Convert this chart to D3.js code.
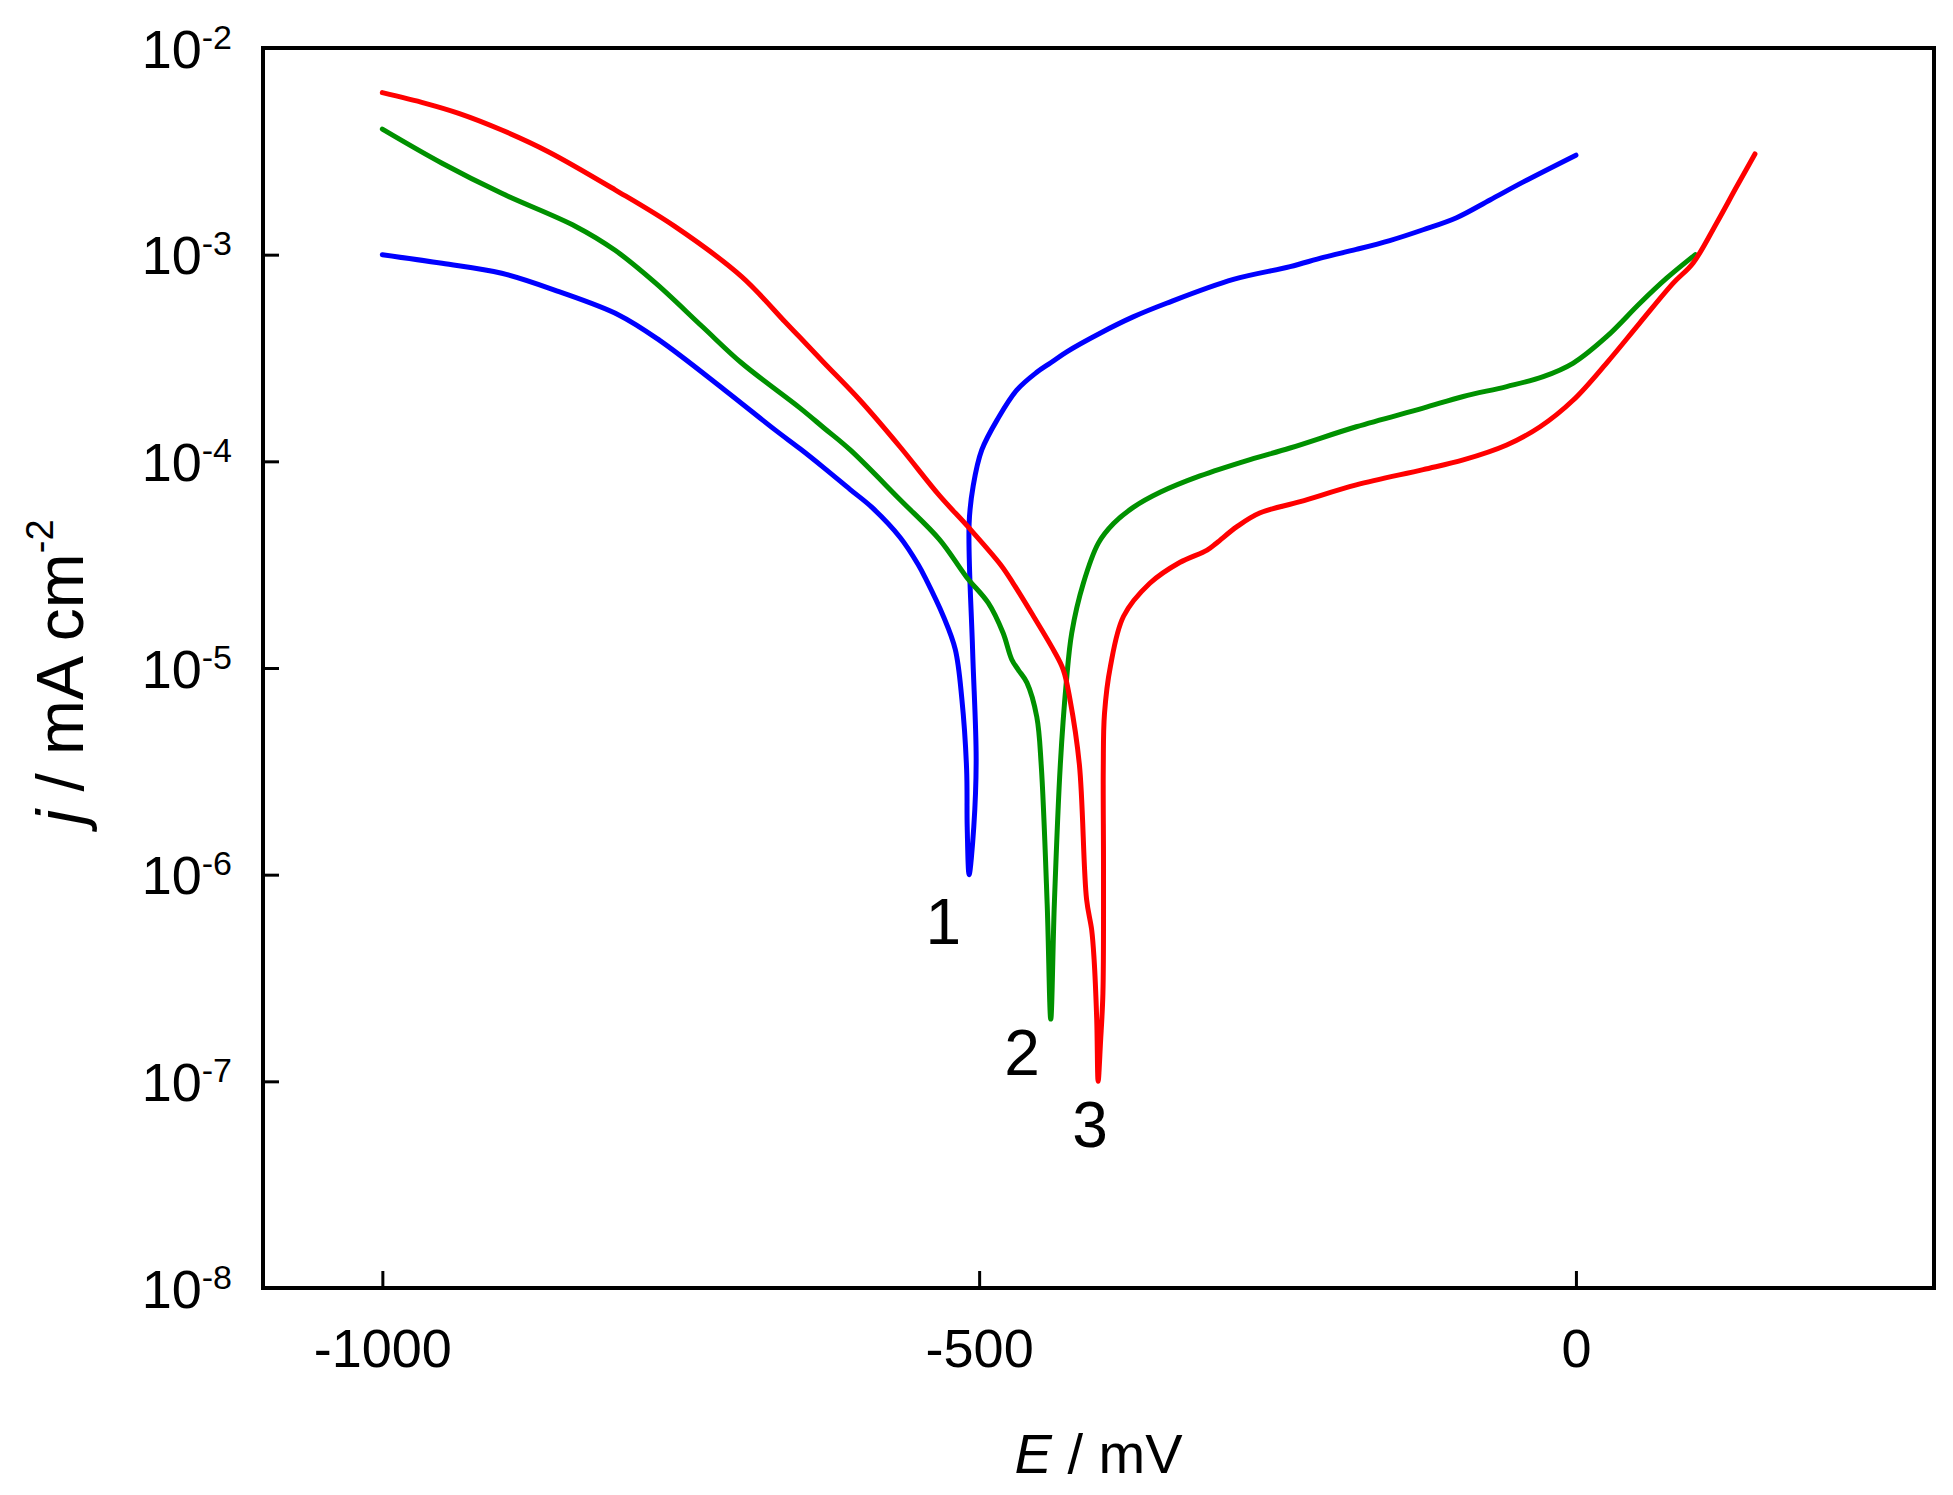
<!DOCTYPE html>
<html>
<head>
<meta charset="utf-8">
<script src="https://cdn.jsdelivr.net/npm/d3@7"></script>
<style>
    body { margin: 0; background: #fff; }
    svg { display: block; font-family: "Liberation Sans", Arial, sans-serif; }
</style>
</head>
<body>
<div id="chart"></div>
<script>
// potential E (mV) vs current density j (mA cm-2)
const curve1 = [
    [-1000, 1.0e-3], [-950, 9.08e-4], [-900, 8.13e-4], [-852, 6.62e-4], [-802, 5.11e-4],
    [-768, 3.86e-4], [-713, 2.21e-4], [-671, 1.42e-4], [-650, 1.15e-4], [-630, 9.3e-5],
    [-608, 7.3e-5], [-590, 6.0e-5], [-566, 4.27e-5], [-551, 3.16e-5], [-545, 2.72e-5],
    [-530, 1.78e-5], [-520, 1.23e-5], [-514.5, 7.1e-6], [-510.5, 3.24e-6], [-510, 1.7e-6],
    [-508.4, 1.0e-6],
    [-504.5, 1.7e-6], [-502.5, 3.6e-6], [-505.5, 1.23e-5], [-508.4, 5.0e-5], [-505, 7.6e-5],
    [-497.8, 1.135e-4], [-484, 1.62e-4], [-468.5, 2.21e-4], [-452, 2.69e-4], [-440, 3.0e-4],
    [-426.6, 3.39e-4], [-398.7, 4.17e-4], [-371, 5.0e-4], [-343, 5.82e-4], [-287, 7.59e-4],
    [-239.5, 8.75e-4], [-211.6, 9.7e-4], [-184, 1.06e-3], [-156, 1.17e-3], [-128, 1.32e-3],
    [-100, 1.51e-3], [-72, 1.84e-3], [-44, 2.25e-3], [0, 3.03e-3]
];

const curve2 = [
    [-1000, 4.05e-3], [-950, 2.77e-3], [-900, 1.98e-3], [-838, 1.37e-3], [-805, 1.05e-3],
    [-771, 7.28e-4], [-732, 4.49e-4], [-699, 2.99e-4], [-650, 1.81e-4], [-630, 1.45e-4],
    [-608, 1.135e-4], [-566, 6.5e-5], [-533, 4.17e-5], [-510.5, 2.75e-5], [-492.5, 2.07e-5],
    [-480, 1.48e-5], [-472.7, 1.10e-5], [-467.2, 9.8e-6], [-460, 8.5e-6], [-451.7, 5.8e-6],
    [-448, 3.4e-6], [-443, 7.2e-7], [-440, 2.0e-7],
    [-437, 7.2e-7], [-432, 3.4e-6], [-427, 8.5e-6], [-422.4, 1.48e-5], [-412.7, 2.57e-5],
    [-400, 4.03e-5], [-387.4, 5.0e-5], [-370.6, 6.0e-5], [-348, 7.1e-5], [-315, 8.5e-5],
    [-273, 1.02e-4], [-239.5, 1.16e-4], [-184, 1.47e-4], [-128, 1.81e-4], [-94.4, 2.06e-4],
    [-58, 2.30e-4], [-27.4, 2.57e-4], [-2.2, 2.99e-4], [25.7, 4.01e-4], [53.6, 5.82e-4],
    [76, 7.69e-4], [100, 1.0e-3]
];

const curve3 = [
    [-1000, 6.08e-3], [-964, 5.4e-3], [-936, 4.83e-3], [-900, 4.01e-3], [-861, 3.15e-3],
    [-805, 2.06e-3], [-755, 1.37e-3], [-699, 7.83e-4], [-662.5, 4.72e-4], [-650, 3.97e-4],
    [-630, 3.0e-4], [-600, 1.98e-4], [-566, 1.17e-4], [-533, 6.8e-5], [-509, 4.8e-5],
    [-482, 3.16e-5], [-471.5, 2.57e-5], [-454.5, 1.78e-5], [-438, 1.23e-5], [-429.5, 9.8e-6],
    [-424, 7.1e-6], [-416, 3.4e-6], [-410, 7.6e-7], [-405.7, 5.4e-7], [-403.7, 3.9e-7],
    [-401.5, 2.0e-7], [-400.3, 1.0e-7],
    [-398.3, 1.55e-7], [-396.3, 2.67e-7], [-395.8, 1.05e-6], [-396, 3.3e-6], [-395, 6.0e-6],
    [-390, 1.02e-5], [-379, 1.78e-5], [-357, 2.57e-5], [-332, 3.24e-5], [-309, 3.72e-5],
    [-301, 4.03e-5], [-284, 4.83e-5], [-265, 5.62e-5], [-231, 6.38e-5], [-184, 7.69e-5],
    [-128, 9.12e-5], [-94.4, 1.016e-4], [-58, 1.20e-4], [-30, 1.47e-4], [-2.2, 1.98e-4],
    [25.7, 2.99e-4], [53.6, 4.68e-4], [81.5, 7.28e-4], [98.2, 9.12e-4], [117.8, 1.42e-3],
    [134.6, 2.13e-3], [150, 3.07e-3]
];

const curveColors = ["#0000ff", "#009100", "#ff0000"];

// curve numbers, placed in data units
const curveLabels = [
    {text: "1", E: -530, j: 4.6e-7},
    {text: "2", E: -464, j: 1.07e-7},
    {text: "3", E: -407, j: 4.8e-8}
];

const xTicks = [-1000, -500, 0];
const yTicks = [1e-8, 1e-7, 1e-6, 1e-5, 1e-4, 1e-3, 1e-2];
const yTickExp = ["-8", "-7", "-6", "-5", "-4", "-3", "-2"];

const WIDTH = 1953;
const HEIGHT = 1495;
const margin = {top: 48, right: 19, bottom: 207, left: 263};
const plotW = WIDTH - margin.left - margin.right;
const plotH = HEIGHT - margin.top - margin.bottom;

const svg = d3.select("#chart").append("svg")
    .attr("width", WIDTH)
    .attr("height", HEIGHT);

const g = svg.append("g").attr("transform", `translate(${margin.left},${margin.top})`);

const x = d3.scaleLinear().domain([-1100, 300]).range([0, plotW]);
const y = d3.scaleLog().domain([1e-8, 1e-2]).range([plotH, 0]);

// ==================== axes =====================
const xAxis = g.append("g")
    .attr("transform", `translate(0,${plotH})`)
    .call(d3.axisBottom(x).tickValues(xTicks).tickSize(-17).tickFormat(d => String(d)));
xAxis.select(".domain").remove();
xAxis.selectAll(".tick line").attr("stroke", "#000").attr("stroke-width", 3);
xAxis.selectAll(".tick text")
    .attr("y", 79).attr("dy", null)
    .attr("fill", "#000")
    .style("font-size", "54px");

const yAxis = g.append("g")
    .call(d3.axisLeft(y).tickValues(yTicks).tickSize(-16).tickPadding(31).tickFormat(""));
yAxis.select(".domain").remove();
yAxis.selectAll(".tick line").attr("stroke", "#000").attr("stroke-width", 3);
yAxis.selectAll(".tick text")
    .attr("dy", null)
    .attr("y", 19)
    .attr("fill", "#000")
    .style("font-size", "54px")
    .each(function (d, i) {
        const t = d3.select(this);
        t.append("tspan").text("10");
        t.append("tspan").attr("dy", -19).style("font-size", "34px").text(yTickExp[i]);
    });

// frame
g.append("rect")
    .attr("width", plotW)
    .attr("height", plotH)
    .attr("fill", "none")
    .attr("stroke", "#000")
    .attr("stroke-width", 4);

// ==================== curves =====================
const line = d3.line()
    .x(d => x(d[0]))
    .y(d => y(d[1]))
    .curve(d3.curveCatmullRom.alpha(0.5));

g.selectAll(".curve")
    .data([curve1, curve2, curve3])
    .enter()
    .append("path")
    .attr("class", "curve")
    .attr("d", line)
    .attr("fill", "none")
    .attr("stroke", (d, i) => curveColors[i])
    .attr("stroke-width", 5)
    .attr("stroke-linecap", "round")
    .attr("stroke-linejoin", "round");

g.selectAll(".curve-label")
    .data(curveLabels)
    .enter()
    .append("text")
    .attr("class", "curve-label")
    .attr("x", d => x(d.E))
    .attr("y", d => y(d.j))
    .attr("text-anchor", "middle")
    .style("font-size", "64px")
    .text(d => d.text);

// ==================== axis titles =====================
const xTitle = g.append("text")
    .attr("x", plotW / 2)
    .attr("y", plotH + 185)
    .attr("text-anchor", "middle")
    .style("font-size", "56px");
xTitle.append("tspan").style("font-style", "italic").text("E");
xTitle.append("tspan").text(" / mV");

const yTitle = svg.append("text")
    .attr("transform", `translate(83,${margin.top + plotH / 2 + 4}) rotate(-90)`)
    .attr("text-anchor", "middle")
    .style("font-size", "66px");
yTitle.append("tspan").style("font-style", "italic").text("j");
yTitle.append("tspan").text(" / mA cm");
yTitle.append("tspan").attr("dy", -30).style("font-size", "38px").text("-2");
</script>
</body>
</html>
